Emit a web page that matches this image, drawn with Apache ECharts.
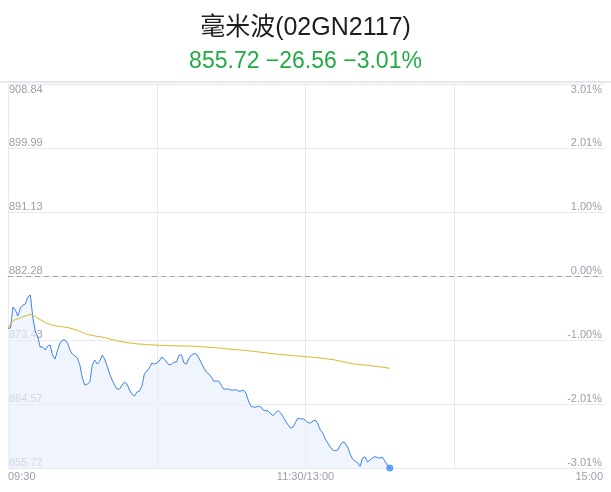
<!DOCTYPE html>
<html>
<head>
<meta charset="utf-8">
<style>html,body{margin:0;padding:0;background:#fff}#c{width:611px;height:492px}</style>
<script src="https://cdn.jsdelivr.net/npm/echarts@6/dist/echarts.min.js"></script>
</head>
<body>
<div id="c"></div>
<script>
const titleText = '毫米波(02GN2117)';
const subText = '855.72 −26.56 −3.01%';
const prevClose = 882.28;
const halfRange = 26.56;
const leftTicks = ['855.72','864.57','873.43','882.28','891.13','899.99','908.84'];
const rightTicks = ['-3.01%','-2.01%','-1.00%','0.00%','1.00%','2.01%','3.01%'];
const xTickLabels = {0:'09:30', 120:'11:30/13:00', 240:'15:00'};

const price = [
875.04,875.08,877.99,877.57,876.74,877.85,878.26,878.40,879.37,879.65,
876.60,874.67,873.84,872.45,872.45,872.04,872.59,872.73,871.34,870.79,
872.04,873.00,873.42,873.42,873.00,872.04,871.48,871.21,870.93,869.96,
868.16,867.19,867.33,867.61,869.96,870.65,870.10,870.51,871.34,870.79,
869.82,868.72,867.89,867.19,866.64,866.64,867.19,867.61,867.33,866.50,
865.95,865.67,866.23,866.36,867.06,868.72,869.13,869.55,870.24,870.10,
870.24,870.51,871.07,870.79,870.38,869.96,870.10,870.38,870.38,871.34,
871.34,870.24,870.10,870.93,871.34,871.55,871.48,870.93,870.24,869.55,
868.99,868.72,868.30,867.75,867.75,867.75,867.19,866.64,866.64,866.64,
866.50,866.50,866.57,866.36,866.36,866.50,866.09,864.98,864.29,864.15,
864.15,864.29,864.15,863.73,863.66,863.60,863.18,862.97,863.39,863.66,
863.32,862.77,862.21,861.66,861.24,861.38,862.07,862.63,862.49,862.56,
862.28,862.00,861.94,862.21,862.35,861.80,860.97,860.55,859.72,859.17,
858.62,858.20,858.13,858.20,858.89,859.31,859.17,858.62,857.65,856.95,
856.68,856.47,855.93,857.09,857.27,856.54,856.82,857.09,857.30,857.16,
857.09,857.23,856.68,856.13,855.72
];
const avgPrice = [
875.04,875.63,876.05,876.26,876.37,876.51,876.63,876.74,876.88,876.96,
876.84,876.67,876.46,876.26,876.05,875.84,875.69,875.58,875.48,875.40,
875.33,875.29,875.25,875.20,875.15,875.07,874.97,874.87,874.76,874.62,
874.46,874.31,874.18,874.11,874.06,873.99,873.93,873.89,873.83,873.75,
873.66,873.57,873.49,873.41,873.31,873.23,873.17,873.13,873.07,873.02,
872.98,872.94,872.89,872.87,872.85,872.82,872.80,872.77,872.76,872.73,
872.71,872.70,872.69,872.67,872.66,872.64,872.64,872.63,872.62,872.60,
872.59,872.59,872.59,872.57,872.57,872.56,872.55,872.53,872.50,872.48,
872.45,872.42,872.39,872.37,872.35,872.33,872.29,872.24,872.22,872.17,
872.15,872.12,872.09,872.06,872.04,872.00,871.97,871.94,871.90,871.86,
871.82,871.77,871.73,871.69,871.65,871.61,871.57,871.52,871.48,871.45,
871.43,871.40,871.36,871.33,871.29,871.26,871.23,871.21,871.18,871.15,
871.12,871.10,871.07,871.04,871.01,870.97,870.93,870.89,870.85,870.79,
870.75,870.71,870.65,870.58,870.51,870.43,870.35,870.28,870.21,870.15,
870.10,870.06,870.02,869.99,869.96,869.92,869.88,869.84,869.79,869.75,
869.71,869.67,869.62,869.56,869.50
];

// time categories 09:30-11:30, 13:01-15:00
const times = [];
function pad(n){return (n<10?'0':'')+n;}
for (let m = 9*60+30; m <= 11*60+30; m++) times.push(pad(Math.floor(m/60))+':'+pad(m%60));
for (let m = 13*60+1; m <= 15*60; m++) times.push(pad(Math.floor(m/60))+':'+pad(m%60));

const step = halfRange / 3;
const toAxis = p => (p - prevClose) / step;
const priceData = price.map(toAxis);
const avgData = avgPrice.map(toAxis);
const lastData = price.map((p, i) => i === price.length - 1 ? toAxis(p) : null);

const font = '"Liberation Sans", "Noto Sans CJK SC", sans-serif';
const labelColor = '#9b9eac';
const gridColor = '#e8e8ee';

const chart = echarts.init(document.getElementById('c'));
chart.setOption({
  animation: false,
  backgroundColor: '#fff',
  title: {
    text: titleText,
    subtext: subText,
    left: 'center',
    top: 11,
    itemGap: 9,
    textStyle: {fontSize: 25, fontWeight: 'normal', color: '#1d1e24', fontFamily: font},
    subtextStyle: {fontSize: 23, color: '#22ab45', fontFamily: font}
  },
  graphic: [{
    type: 'rect', left: 0, top: 81, silent: true,
    shape: {width: 611, height: 2},
    style: {fill: '#e6e6ec'}
  }],
  grid: {left: 8, right: 8, top: 84, bottom: 24, containLabel: false},
  xAxis: {
    type: 'category',
    boundaryGap: false,
    data: times,
    axisLine: {show: false},
    axisTick: {show: false},
    splitLine: {
      show: true,
      interval: (i) => i % 60 === 0 && i < 240,
      lineStyle: {color: gridColor, width: 1}
    },
    axisLabel: {
      interval: (i) => xTickLabels[i] !== undefined,
      formatter: (v, i) => xTickLabels[i] || '',
      color: labelColor, fontSize: 11, fontFamily: font, margin: 3,
      alignMinLabel: 'left', alignMaxLabel: 'right'
    }
  },
  yAxis: [{
    type: 'value', min: -3, max: 3, interval: 1, position: 'left',
    axisLine: {show: false}, axisTick: {show: false},
    splitLine: {show: true, lineStyle: {color: gridColor, width: 1}},
    axisLabel: {
      inside: true, margin: 1,
      formatter: (v) => leftTicks[Math.round(v) + 3],
      color: labelColor, fontSize: 11, fontFamily: font,
      verticalAlign: 'bottom', verticalAlignMaxLabel: 'top'
    }
  }, {
    type: 'value', min: -3, max: 3, interval: 1, position: 'right',
    axisLine: {show: false}, axisTick: {show: false},
    splitLine: {show: false},
    axisLabel: {
      inside: true, margin: 1,
      formatter: (v) => rightTicks[Math.round(v) + 3],
      color: labelColor, fontSize: 11, fontFamily: font,
      verticalAlign: 'bottom', verticalAlignMaxLabel: 'top'
    }
  }],
  series: [{
    type: 'line', data: priceData, symbol: 'none', smooth: false,
    lineStyle: {color: '#3f82ec', width: 1},
    itemStyle: {color: '#3f82ec'},
    areaStyle: {color: '#e9f0fc', origin: 'start'},
    markLine: {
      silent: true, symbol: 'none', label: {show: false},
      lineStyle: {color: '#9aa3b6', type: [5, 4], width: 1},
      data: [{yAxis: toAxis(prevClose)}]
    },
    z: 3
  }, {
    type: 'line', data: avgData, symbol: 'none',
    lineStyle: {color: '#d5b726', width: 1},
    z: 4
  }, {
    type: 'scatter', data: lastData, symbol: 'circle', symbolSize: 7,
    itemStyle: {color: '#3a8cf5'}, z: 5
  }]
});
</script>
</body>
</html>
